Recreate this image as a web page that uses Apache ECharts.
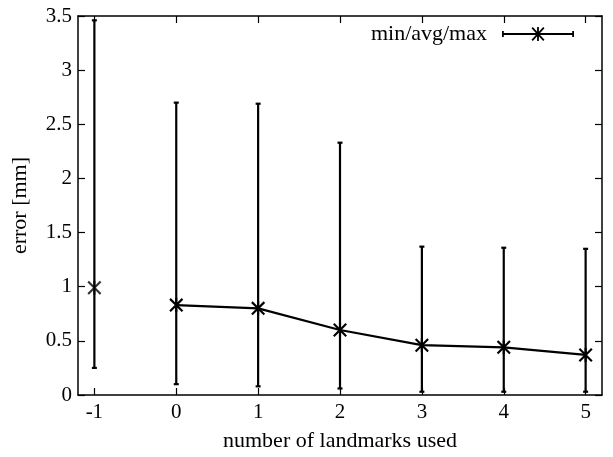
<!DOCTYPE html>
<html>
<head>
<meta charset="utf-8">
<script src="https://cdn.jsdelivr.net/npm/echarts@6/dist/echarts.min.js"></script>
<style>
  html, body { margin: 0; padding: 0; background: #fff; }
  #chart { width: 613px; height: 457px; }
</style>
</head>
<body>
<div id="chart"></div>
<script>
// landmarks used (x), and min / avg / max error in mm
const landmarks = [-1, 0, 1, 2, 3, 4, 5]
const avgErr = [0.99, 0.83, 0.80, 0.60, 0.46, 0.44, 0.37]
const minErr = [0.25, 0.10, 0.08, 0.06, 0.03, 0.03, 0.03]
const maxErr = [3.46, 2.70, 2.69, 2.33, 1.37, 1.36, 1.35]
const xTicks = [-1, 0, 1, 2, 3, 4, 5]

const font = 'Liberation Serif'
// asterisk: X plus vertical bar
const star = 'path://M5.1 0 H6.9 V12 H5.1 Z M0 1.3 L1.3 0 L12 10.7 L10.7 12 Z M10.7 0 L12 1.3 L1.3 12 L0 10.7 Z'
// legend sample: horizontal error bar with caps and the asterisk in the middle
const legendIcon = 'path://M0 6.1 H72 V7.9 H0 Z M0 4 H1.8 V10 H0 Z M70.2 4 H72 V10 H70.2 Z ' +
  'M35.1 0 H36.9 V14 H35.1 Z M29.5 1.3 L30.8 0 L42.5 12.7 L41.2 14 Z M41.2 0 L42.5 1.3 L30.8 14 L29.5 12.7 Z'

const errData = landmarks.map((x, i) => [x, minErr[i], maxErr[i]])
const linePts = landmarks.map((x, i) => [x, avgErr[i]]).filter(p => p[0] >= 0)
const lonePts = landmarks.map((x, i) => [x, avgErr[i]]).filter(p => p[0] < 0)

const axisCommon = {
  axisLine: { show: true, onZero: false, lineStyle: { color: '#000', width: 1.5 } },
  axisTick: { show: true, inside: true, length: 7, lineStyle: { color: '#000', width: 1.2 } },
  splitLine: { show: false }
}

const option = {
  animation: false,
  backgroundColor: '#fff',
  grid: { left: 78, right: 11, top: 16, bottom: 62 },
  legend: {
    top: 23,
    right: 39,
    padding: 0,
    align: 'right',
    itemWidth: 72,
    itemHeight: 14,
    itemGap: 0,
    textStyle: { fontFamily: font, fontSize: 22, color: '#000', padding: [0, 10, 0, 0] },
    data: [{ name: 'min/avg/max', icon: legendIcon, itemStyle: { color: '#000', borderWidth: 0 } }]
  },
  xAxis: [
    Object.assign({}, axisCommon, {
      type: 'value', min: -1.2, max: 5.2, position: 'bottom',
      name: 'number of landmarks used', nameLocation: 'middle', nameGap: 35,
      nameTextStyle: { fontFamily: font, fontSize: 22, color: '#000' },
      axisTick: Object.assign({}, axisCommon.axisTick, { customValues: xTicks }),
      axisLabel: { customValues: xTicks, fontFamily: font, fontSize: 21, color: '#000', margin: 7 }
    }),
    Object.assign({}, axisCommon, {
      type: 'value', min: -1.2, max: 5.2, position: 'top',
      axisTick: Object.assign({}, axisCommon.axisTick, { customValues: xTicks }),
      axisLabel: { show: false }
    })
  ],
  yAxis: [
    Object.assign({}, axisCommon, {
      type: 'value', min: 0, max: 3.5, interval: 0.5, position: 'left',
      name: 'error [mm]', nameLocation: 'middle', nameGap: 47, nameRotate: 90,
      nameTextStyle: { fontFamily: font, fontSize: 22, color: '#000' },
      axisLabel: { fontFamily: font, fontSize: 21, color: '#000', margin: 6 }
    }),
    Object.assign({}, axisCommon, {
      type: 'value', min: 0, max: 3.5, interval: 0.5, position: 'right',
      axisLabel: { show: false }
    })
  ],
  series: [
    {
      name: 'min/avg/max',
      type: 'custom',
      data: errData,
      encode: { x: 0, y: [1, 2] },
      z: 3,
      renderItem: function (params, api) {
        const lo = api.coord([api.value(0), api.value(1)])
        const hi = api.coord([api.value(0), api.value(2)])
        const cap = 2.5
        const style = { stroke: '#000', lineWidth: 2.2, fill: null }
        return {
          type: 'group',
          children: [
            { type: 'line', shape: { x1: lo[0], y1: lo[1], x2: hi[0], y2: hi[1] }, style: style },
            { type: 'line', shape: { x1: lo[0] - cap, y1: lo[1], x2: lo[0] + cap, y2: lo[1] }, style: style },
            { type: 'line', shape: { x1: hi[0] - cap, y1: hi[1], x2: hi[0] + cap, y2: hi[1] }, style: style }
          ]
        }
      }
    },
    {
      name: 'min/avg/max',
      type: 'line',
      data: linePts,
      symbol: star,
      symbolSize: 14,
      showAllSymbol: true,
      lineStyle: { color: '#000', width: 2.2 },
      itemStyle: { color: '#000' },
      z: 4
    },
    {
      name: 'min/avg/max',
      type: 'scatter',
      data: lonePts,
      symbol: star,
      symbolSize: 14,
      itemStyle: { color: '#000' },
      z: 4
    }
  ]
}

const chart = echarts.init(document.getElementById('chart'))
chart.setOption(option)
</script>
</body>
</html>
